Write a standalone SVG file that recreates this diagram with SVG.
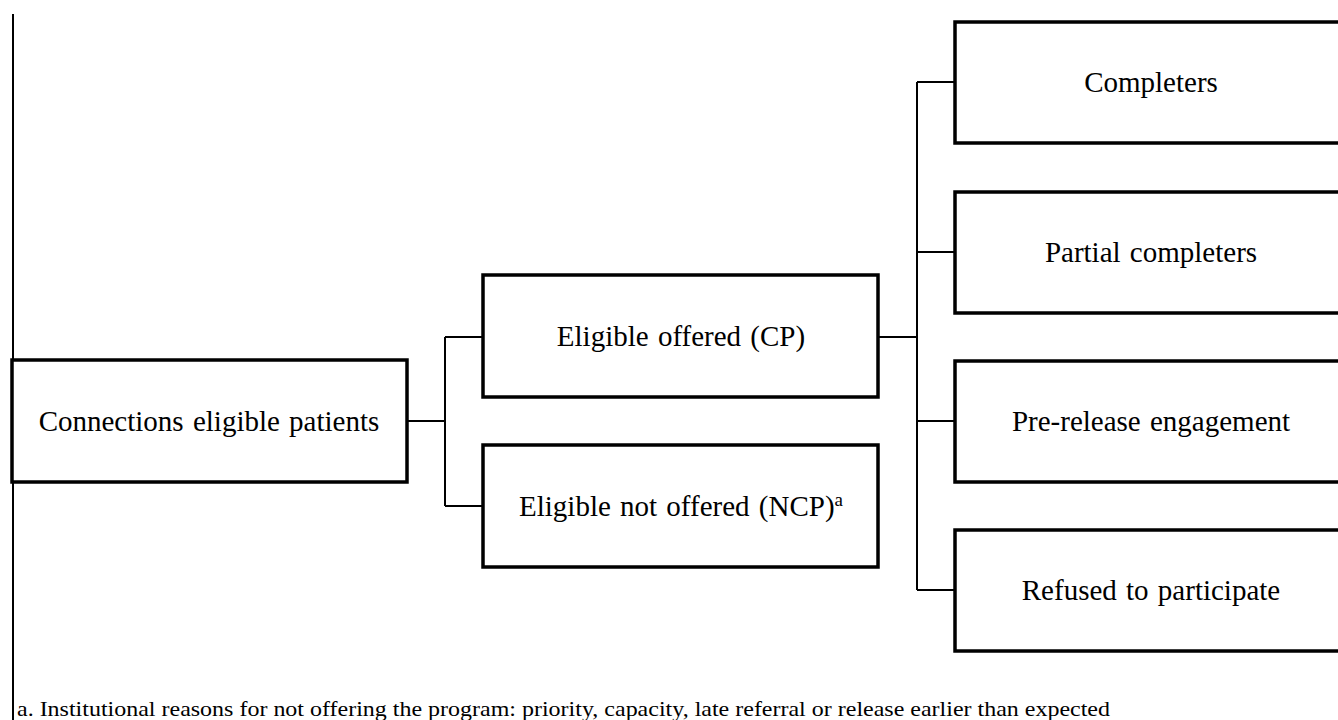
<svg xmlns="http://www.w3.org/2000/svg" width="1338" height="720" viewBox="0 0 1338 720">
<style>
.box{fill:#fff;stroke:#000;stroke-width:3.5}
.lbl{font-family:"Liberation Serif","Times New Roman",serif;font-size:29px;fill:#000;text-anchor:middle;word-spacing:2px}
.con{fill:none;stroke:#000;stroke-width:2}
.note{font-family:"Liberation Serif","Times New Roman",serif;font-size:21px;fill:#000}
</style>
<rect width="1338" height="720" fill="#fff"/>
<line x1="13" y1="14" x2="13" y2="720" stroke="#000" stroke-width="2"/>
<g id="connectors">
<path class="con" d="M407 421 H445 M445 337 V506 M445 337 H483 M445 506 H483"/>
<path class="con" d="M878 337 H917 M917 82 V590 M917 82 H955 M917 252 H955 M917 421 H955 M917 590 H955"/>
</g>
<g id="n-connections">
<rect class="box" x="12" y="360" width="395" height="122"/>
<text class="lbl" x="209" y="431">Connections eligible patients</text>
</g>
<g id="n-offered">
<rect class="box" x="483" y="275" width="395" height="122"/>
<text class="lbl" x="681" y="346">Eligible offered (CP)</text>
</g>
<g id="n-notoffered">
<rect class="box" x="483" y="445" width="395" height="122"/>
<text class="lbl" x="681" y="516">Eligible not offered (NCP)<tspan font-size="19" dy="-10">a</tspan></text>
</g>
<g id="n-completers">
<rect class="box" x="955" y="22" width="395" height="121"/>
<text class="lbl" x="1151" y="92">Completers</text>
</g>
<g id="n-partial">
<rect class="box" x="955" y="192" width="395" height="121"/>
<text class="lbl" x="1151" y="262">Partial completers</text>
</g>
<g id="n-prerelease">
<rect class="box" x="955" y="361" width="395" height="121"/>
<text class="lbl" x="1151" y="431">Pre-release engagement</text>
</g>
<g id="n-refused">
<rect class="box" x="955" y="530" width="395" height="121"/>
<text class="lbl" x="1151" y="600">Refused to participate</text>
</g>
<text class="note" x="17" y="716" textLength="1093" lengthAdjust="spacingAndGlyphs">a. Institutional reasons for not offering the program: priority, capacity, late referral or release earlier than expected</text>
</svg>
